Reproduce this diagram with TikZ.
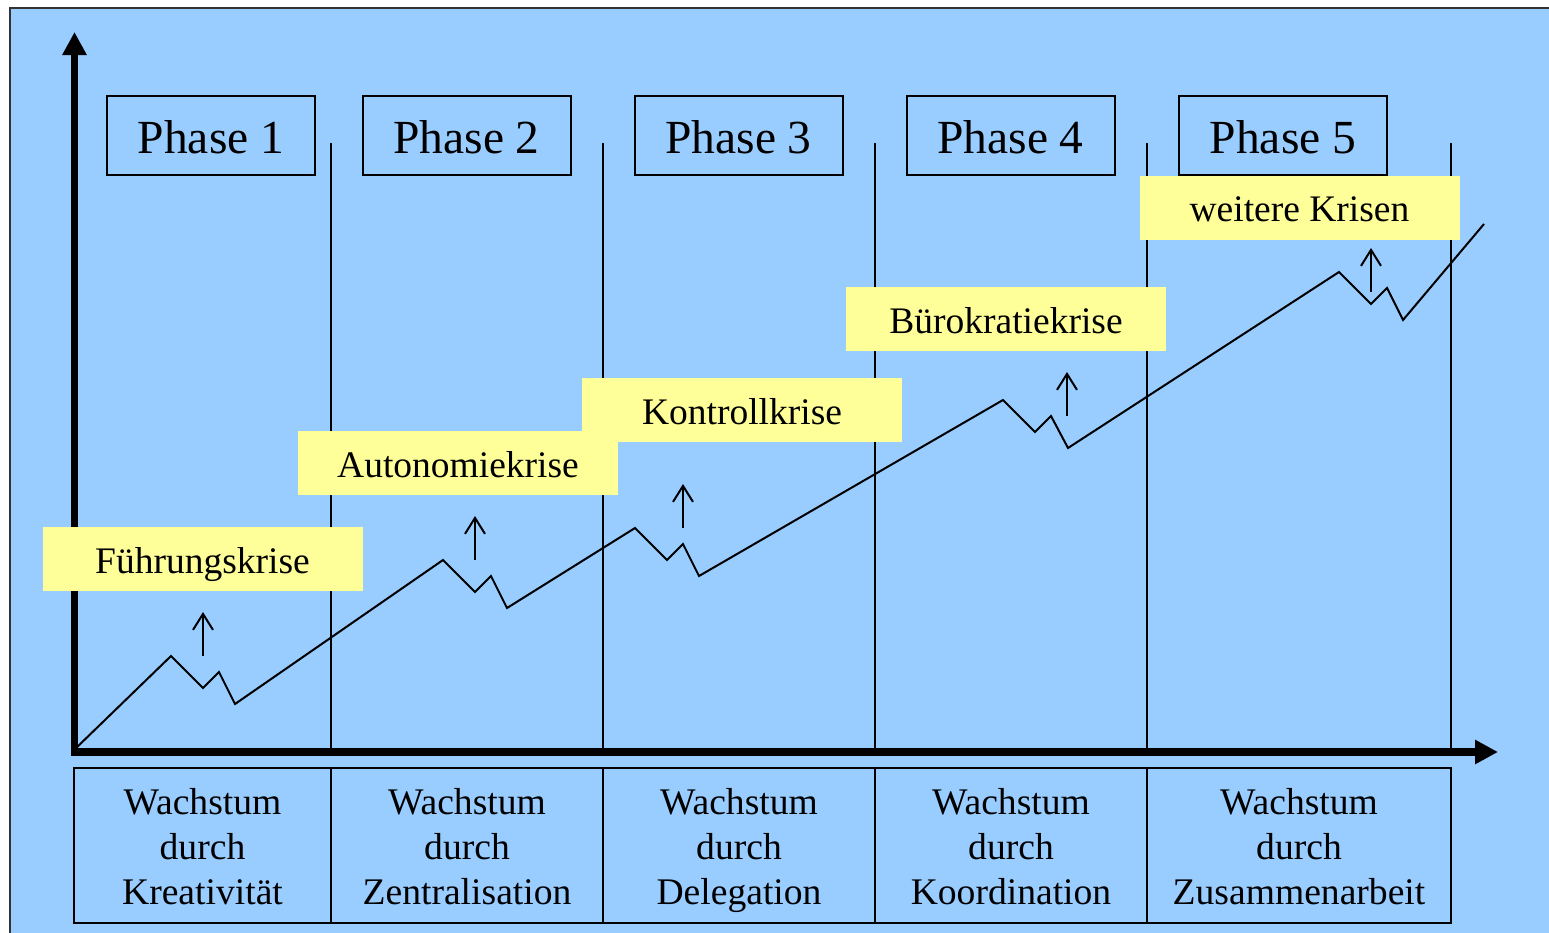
\documentclass[tikz,border=0pt]{standalone}
\usepackage{fontspec}
\setmainfont{Liberation Serif}
\usetikzlibrary{arrows.meta}
\definecolor{bgblue}{HTML}{99CCFF}
\definecolor{crisisyellow}{HTML}{FFFF99}
\definecolor{framegray}{HTML}{333333}
\begin{document}
\begin{tikzpicture}[x=1pt,y=-1pt,
  thinline/.style={line width=2pt},
  phasebox/.style={draw, line width=2pt, minimum width=208pt, minimum height=79pt, inner sep=0pt,
    font=\fontsize{47.5}{57}\selectfont, text height=35pt, text depth=0pt},
  crisis/.style={fill=crisisyellow, minimum width=320pt, minimum height=64pt, inner sep=0pt,
    font=\fontsize{37.5}{45}\selectfont, text height=28pt, text depth=0pt},
  growth/.style={anchor=north, inner sep=0pt, align=center, font=\fontsize{37.6}{45}\selectfont},
  axis/.style={line width=7.5pt, -{Triangle[length=23pt,width=23pt]}},
  crisisarrow/.style={line width=2pt, -{Straight Barb[length=16pt,width=20pt]}},
]
\useasboundingbox (0,0) rectangle (1549,932);
% background panel
\draw[line width=1.5pt, draw=framegray, fill=bgblue] (10,8) rectangle (1600,1000);

% phase dividers
\foreach \x in {331,603,875,1147,1451}
  \draw[thinline] (\x,143) -- (\x,752);

% bottom boxes
\draw[thinline] (74,768) rectangle (1451,923);
\foreach \x in {331,603,875,1147}
  \draw[thinline] (\x,768) -- (\x,923);
\node[growth] (g1) at (202.5,783) {\strut Wachstum\\durch\\Kreativität};
\node[growth] (g2) at (467,783) {\strut Wachstum\\durch\\Zentralisation};
\node[growth] (g3) at (739,783) {\strut Wachstum\\durch\\Delegation};
\node[growth] (g4) at (1011,783) {\strut Wachstum\\durch\\Koordination};
\node[growth] (g5) at (1299,783) {\strut Wachstum\\durch\\Zusammenarbeit};

% axes
\coordinate (origin) at (74.5,756);
\coordinate (ytip) at (74.5,32);
\coordinate (xstart) at (71,752);
\coordinate (xtip) at (1498,752);
\draw[axis] (origin) -- (ytip);
\draw[axis] (xstart) -- (xtip);

% growth curve
\draw[thinline] (74,750) -- (171,656) -- (203,688) -- (219,672) -- (235,704)
  -- (443,560) -- (475,592) -- (491,576) -- (507,608)
  -- (635,528) -- (667,560) -- (683,544) -- (699,576)
  -- (1003,400) -- (1035,432) -- (1051,416) -- (1068,448)
  -- (1339,272) -- (1371,304) -- (1387,288) -- (1403,320) -- (1484,224);

% crisis arrows
\coordinate (a1s) at (203,656); \coordinate (a1e) at (203,612);
\coordinate (a2s) at (475,560); \coordinate (a2e) at (475,516);
\coordinate (a3s) at (683,528); \coordinate (a3e) at (683,484);
\coordinate (a4s) at (1067,416); \coordinate (a4e) at (1067,372);
\coordinate (a5s) at (1371,292); \coordinate (a5e) at (1371,248);
\foreach \i in {1,...,5}
  \draw[crisisarrow] (a\i s) -- (a\i e);

% crisis labels
\node[crisis] (c1) at (202.5,559.3) {Führungskrise};
\node[crisis] (c2) at (458,463) {Autonomiekrise};
\node[crisis] (c3) at (742,410) {Kontrollkrise};
\node[crisis] (c4) at (1006,319.3) {Bürokratiekrise};
\node[crisis] (c5) at (1299.5,207.5) {weitere Krisen};

% phase boxes
\node[phasebox] (p1) at (211,135.5) {Phase 1};
\node[phasebox] (p2) at (466.5,135.5) {Phase 2};
\node[phasebox] (p3) at (738.5,135.5) {Phase 3};
\node[phasebox] (p4) at (1010.5,135.5) {Phase 4};
\node[phasebox] (p5) at (1283,135.5) {Phase 5};
\end{tikzpicture}
\end{document}
